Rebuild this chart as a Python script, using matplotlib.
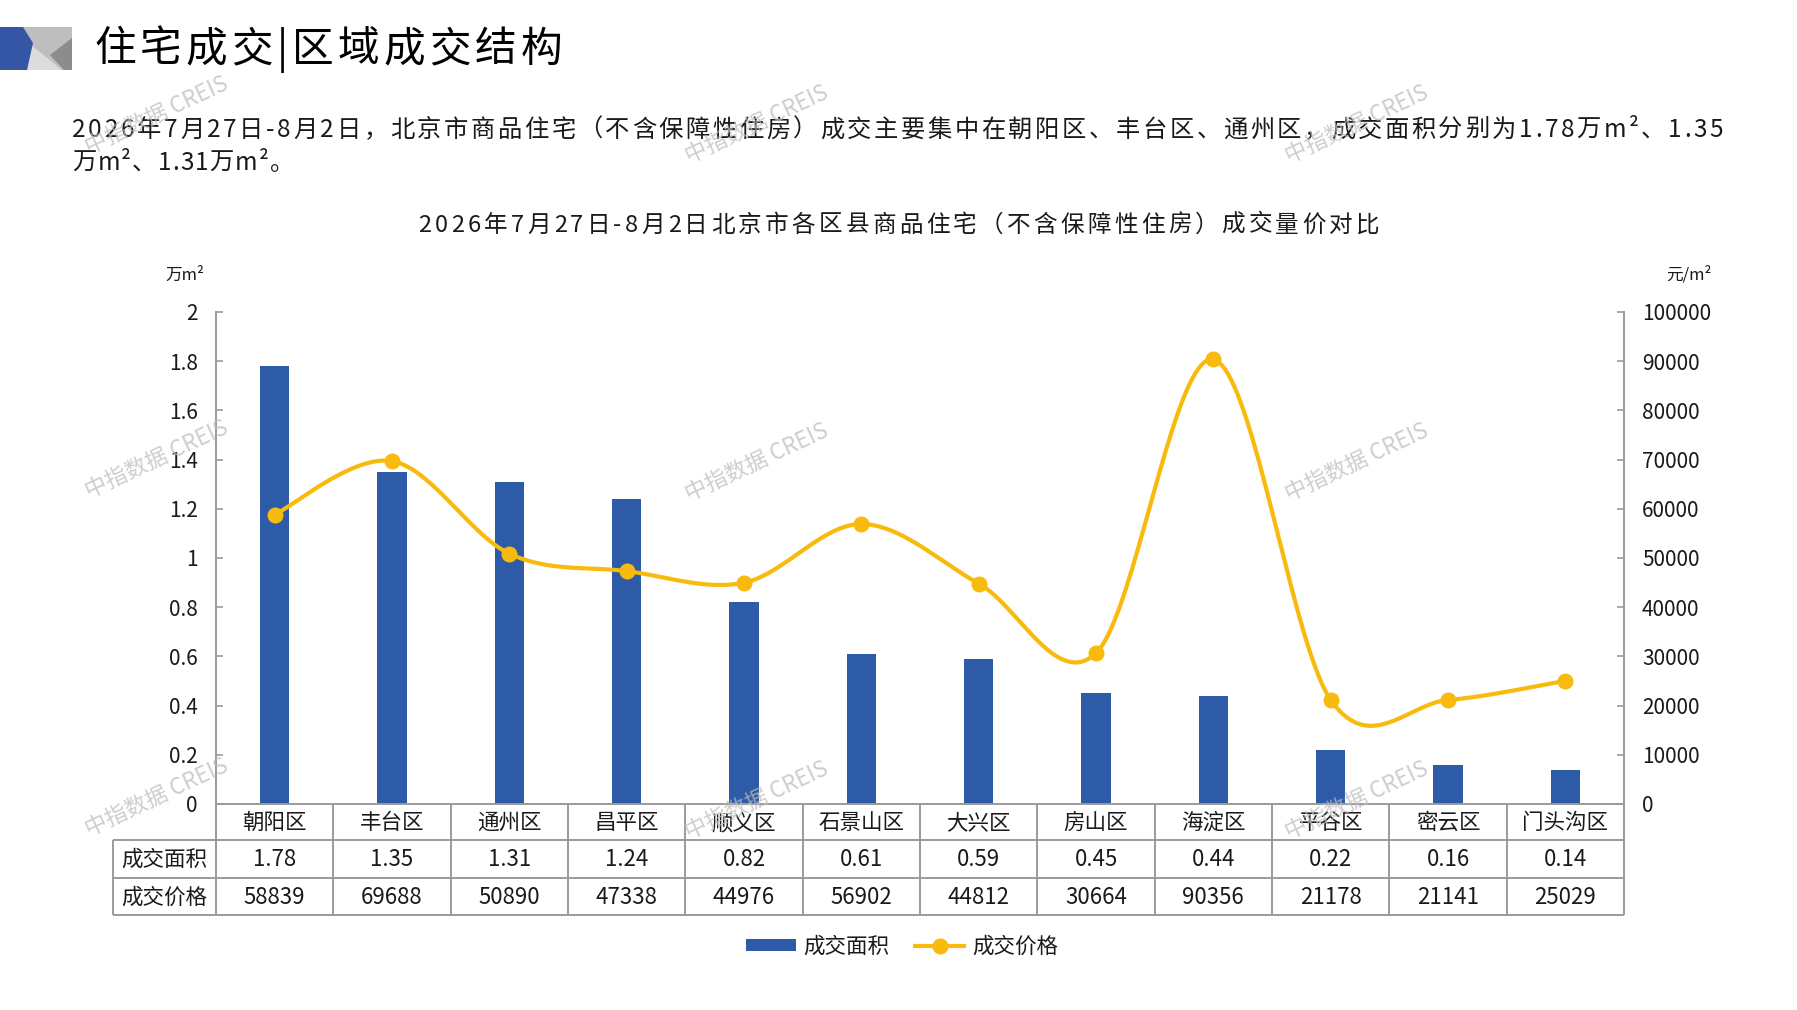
import numpy as np
import matplotlib
matplotlib.use("Agg")
import matplotlib.pyplot as plt
from matplotlib.transforms import Affine2D, blended_transform_factory
from matplotlib.lines import Line2D
from matplotlib.patches import Polygon, Patch

plt.rcParams['font.family'] = ['Noto Sans CJK SC', 'DejaVu Sans']

# ---------------- data ----------------
categories = ['朝阳区', '丰台区', '通州区', '昌平区', '顺义区', '石景山区',
              '大兴区', '房山区', '海淀区', '平谷区', '密云区', '门头沟区']
area = [1.78, 1.35, 1.31, 1.24, 0.82, 0.61, 0.59, 0.45, 0.44, 0.22, 0.16, 0.14]
price = [58839, 69688, 50890, 47338, 44976, 56902, 44812, 30664, 90356, 21178, 21141, 25029]
area_ticks = [0, 0.2, 0.4, 0.6, 0.8, 1, 1.2, 1.4, 1.6, 1.8, 2]
area_tick_labels = ['0', '0.2', '0.4', '0.6', '0.8', '1', '1.2', '1.4', '1.6', '1.8', '2']
price_ticks = [0, 10000, 20000, 30000, 40000, 50000, 60000, 70000, 80000, 90000, 100000]
series_names = ['成交面积', '成交价格']

page_title = '住宅成交|区域成交结构'
para_line1 = '2026年7月27日-8月2日，北京市商品住宅（不含保障性住房）成交主要集中在朝阳区、丰台区、通州区，成交面积分别为1.78万m²、1.35'
para_line2 = '万m²、1.31万m²。'
chart_title = '2026年7月27日-8月2日北京市各区县商品住宅（不含保障性住房）成交量价对比'
left_unit = '万m²'
right_unit = '元/m²'
watermark = '中指数据 CREIS'

BLUE = '#2E5BA8'
GOLD = '#F8BA0C'
GRAY = '#9A9A9A'
TXT = '#1a1a1a'

W, H = 1797, 1010
fig = plt.figure(figsize=(W / 100, H / 100), dpi=100)
fig.patch.set_facecolor('white')
PX = Affine2D().scale(1 / W, -1 / H).translate(0, 1) + fig.transFigure
renderer = fig.canvas.get_renderer()


def tracked_text(x0, y, s, size, total_width=None, ha='left', **kw):
    """Draw text char by char (pixel coords, origin top-left) with letter spacing."""
    widths = []
    for ch in s:
        t = fig.text(0, 0, ch, fontsize=size, transform=PX)
        if ch == ' ':
            widths.append(size * 100 / 72 * 0.3)
        else:
            widths.append(t.get_window_extent(renderer).width)
        t.remove()
    natural = sum(widths)
    gap = 0.0
    if total_width is not None and len(s) > 1:
        gap = (total_width - natural) / (len(s) - 1)
    full = natural + gap * (len(s) - 1)
    if ha == 'center':
        x0 = x0 - full / 2
    cx = x0
    for ch, w in zip(s, widths):
        fig.text(cx, y, ch, fontsize=size, transform=PX, ha='left', va='center', **kw)
        cx += w + gap


# ---------------- logo & header ----------------
fig.patches.append(Polygon([(23, 27), (72, 27), (72, 70), (23, 70)], closed=True,
                           facecolor='#BEBEBE', edgecolor='none', transform=PX))
fig.patches.append(Polygon([(25, 40), (62, 70), (27, 70)], closed=True,
                           facecolor='#DCDCDC', edgecolor='none', transform=PX))
fig.patches.append(Polygon([(72, 38), (50, 55), (64, 70), (72, 70)], closed=True,
                           facecolor='#8C8C8C', edgecolor='none', transform=PX))
fig.patches.append(Polygon([(0, 27), (23, 27), (33, 43), (27, 70), (0, 70)], closed=True,
                           facecolor='#3555A5', edgecolor='none', transform=PX))
tracked_text(94, 50, page_title, 30, total_width=468, color='black')
tracked_text(72, 130, para_line1, 17.5, total_width=1651, color=TXT)
tracked_text(72, 163, para_line2, 17.5, total_width=222, color=TXT)
tracked_text(899, 225, chart_title, 17, total_width=961, ha='center', color=TXT)

# ---------------- main axes ----------------
L, R, T, B = 216, 1624, 312, 804
ax = fig.add_axes([L / W, 1 - B / H, (R - L) / W, (B - T) / H])
x = np.arange(len(categories))
ax.bar(x, area, width=0.25, color=BLUE, zorder=2)
ax.set_xlim(-0.5, len(categories) - 0.5)
ax.set_ylim(0, 2)
ax.set_xticks([])
ax.set_yticks(area_ticks)
ax.set_yticklabels(area_tick_labels)
ax.tick_params(axis='y', direction='in', length=5, width=1.2, color=GRAY,
               pad=13, labelsize=15, labelcolor=TXT)
for s in ['top', 'right']:
    ax.spines[s].set_visible(False)
for s in ['left', 'bottom']:
    ax.spines[s].set_color(GRAY)
    ax.spines[s].set_linewidth(1.4)

ax2 = ax.twinx()
ax2.set_ylim(0, 100000)
ax2.set_yticks(price_ticks)
ax2.set_yticklabels([str(v) for v in price_ticks])
ax2.tick_params(axis='y', direction='in', length=5, width=1.2, color=GRAY,
                pad=13, labelsize=15, labelcolor=TXT)
for s in ['top', 'left', 'bottom']:
    ax2.spines[s].set_visible(False)
ax2.spines['right'].set_color(GRAY)
ax2.spines['right'].set_linewidth(1.4)


def smooth_curve(xs, ys, n=40):
    xs = np.asarray(xs, float)
    ys = np.asarray(ys, float)
    P = np.column_stack([xs, ys])
    Pext = np.vstack([P[0], P, P[-1]])
    out = []
    for i in range(len(P) - 1):
        p0, p1, p2, p3 = Pext[i], Pext[i + 1], Pext[i + 2], Pext[i + 3]
        c1 = p1 + (p2 - p0) / 6.0
        c2 = p2 - (p3 - p1) / 6.0
        t = np.linspace(0, 1, n)[:, None]
        seg = ((1 - t) ** 3) * p1 + 3 * ((1 - t) ** 2) * t * c1 + 3 * (1 - t) * t ** 2 * c2 + t ** 3 * p2
        out.append(seg if i == 0 else seg[1:])
    pts = np.vstack(out)
    return pts[:, 0], pts[:, 1]


sx, sy = smooth_curve(x, price)
ax2.plot(sx, sy, color=GOLD, lw=3.0, solid_capstyle='round', zorder=3)
ax2.plot(x, price, 'o', color=GOLD, markersize=10.5, zorder=4)

# ---------------- data table ----------------
TB = blended_transform_factory(ax.transData, PX)
rows_y = [804, 840, 878, 915]
line_kw = dict(color=GRAY, lw=1.4, solid_capstyle='butt')
for yy in rows_y[1:]:
    fig.add_artist(Line2D([113, R], [yy, yy], transform=PX, **line_kw))
for i in range(len(categories) + 1):
    fig.add_artist(Line2D([i - 0.5, i - 0.5], [804, 915], transform=TB, **line_kw))
fig.add_artist(Line2D([113, 113], [840, 915], transform=PX, **line_kw))

for i, c in enumerate(categories):
    fig.text(i, (rows_y[0] + rows_y[1]) / 2 + 1, c, transform=TB, ha='center', va='center',
             fontsize=15.5, color=TXT)
    fig.text(i, (rows_y[1] + rows_y[2]) / 2 + 1, f'{area[i]:.2f}', transform=TB, ha='center',
             va='center', fontsize=16, color=TXT)
    fig.text(i, (rows_y[2] + rows_y[3]) / 2 + 1, f'{price[i]}', transform=TB, ha='center',
             va='center', fontsize=16, color=TXT)
fig.text(164, (rows_y[1] + rows_y[2]) / 2 + 1, series_names[0], transform=PX, ha='center',
         va='center', fontsize=15.5, color=TXT)
fig.text(164, (rows_y[2] + rows_y[3]) / 2 + 1, series_names[1], transform=PX, ha='center',
         va='center', fontsize=15.5, color=TXT)

# unit labels
fig.text(185, 275, left_unit, transform=PX, ha='center', va='center', fontsize=12, color=TXT)
fig.text(1689, 275, right_unit, transform=PX, ha='center', va='center', fontsize=12, color=TXT)

# ---------------- legend ----------------
handles = [Patch(facecolor=BLUE, edgecolor='none'),
           Line2D([0], [0], color=GOLD, lw=3.0, marker='o', markersize=10.5)]
fig.legend(handles, series_names, loc='center', bbox_to_anchor=(902 / W, 1 - 947 / H),
           ncol=2, frameon=False, fontsize=15.5, handlelength=2.3, handleheight=0.5,
           handletextpad=0.35, columnspacing=1.2, labelcolor=TXT)

# ---------------- watermarks ----------------
for (wx, wy) in [(157, 115), (757, 124), (1357, 124),
                 (157, 459), (757, 462), (1357, 462),
                 (157, 797), (757, 800), (1357, 800)]:
    fig.text(wx, wy, watermark, transform=PX, ha='center', va='center', rotation=25,
             fontsize=16, color='#BDBDBD', alpha=0.75, zorder=20,
             family=['Noto Sans CJK SC', 'DejaVu Sans'])

fig.savefig('out.png', dpi=100, facecolor='white')
